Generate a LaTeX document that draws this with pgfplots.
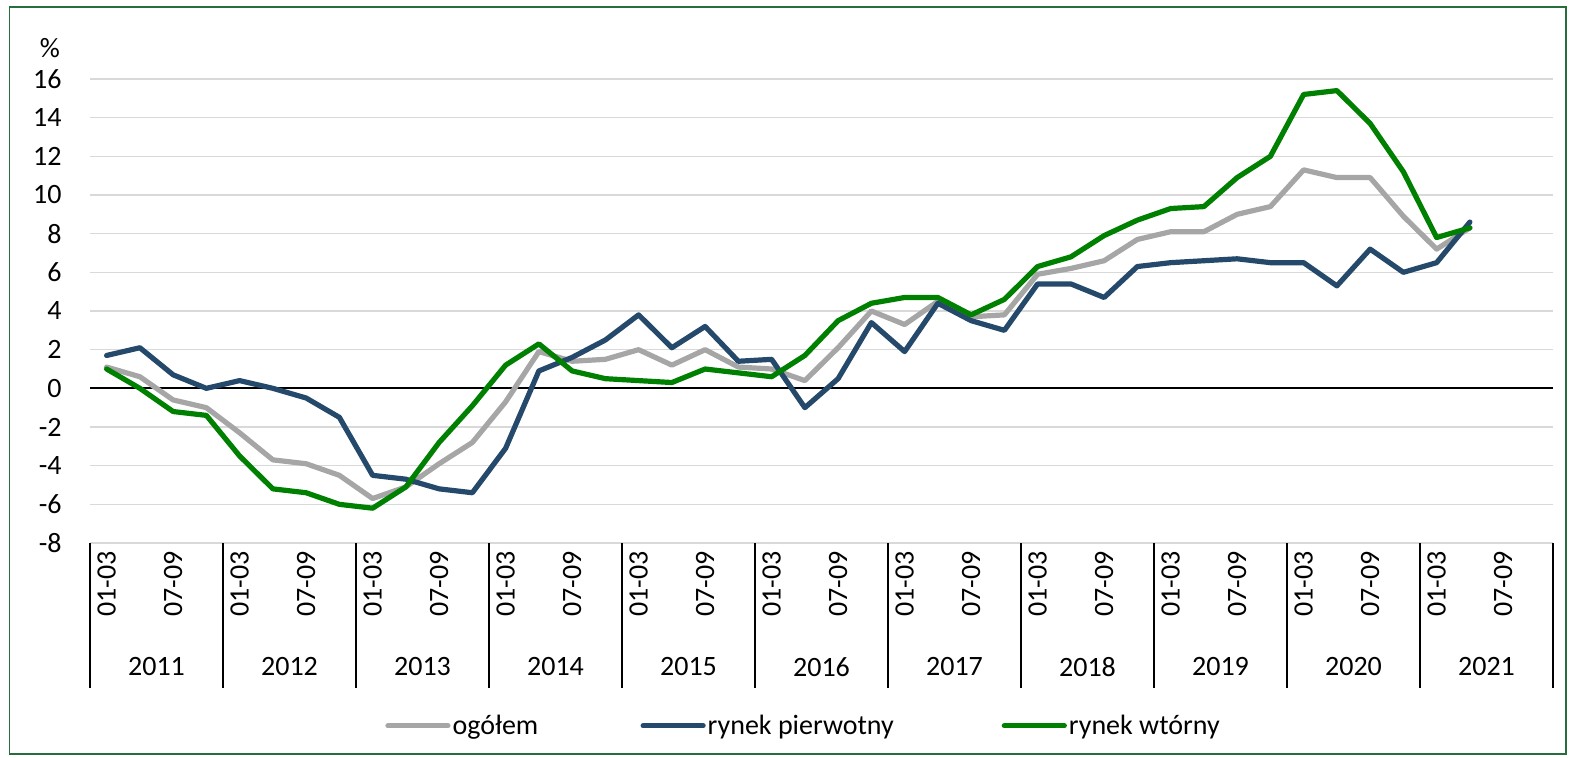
\documentclass[border=0pt]{standalone}
\usepackage{pgfplots}
\pgfplotsset{compat=1.18}
\usepackage{pgfplotstable}
\usepackage{fontspec}
\setmainfont{Carlito}
\definecolor{cgrey}{RGB}{166,166,166}
\definecolor{cblue}{RGB}{37,73,106}
\definecolor{cgreen}{RGB}{0,128,0}
\definecolor{cgrid}{RGB}{217,217,217}
\definecolor{cborder}{RGB}{40,110,60}

\pgfplotstableread{
x og pi wt
0.5 1.1 1.7 1.0
1.5 0.6 2.1 0.0
2.5 -0.6 0.7 -1.2
3.5 -1.0 0.0 -1.4
4.5 -2.3 0.4 -3.5
5.5 -3.7 0.0 -5.2
6.5 -3.9 -0.5 -5.4
7.5 -4.5 -1.5 -6.0
8.5 -5.7 -4.5 -6.2
9.5 -5.1 -4.7 -5.1
10.5 -3.9 -5.2 -2.8
11.5 -2.8 -5.4 -0.9
12.5 -0.7 -3.1 1.2
13.5 1.9 0.9 2.3
14.5 1.4 1.6 0.9
15.5 1.5 2.5 0.5
16.5 2.0 3.8 0.4
17.5 1.2 2.1 0.3
18.5 2.0 3.2 1.0
19.5 1.1 1.4 0.8
20.5 1.0 1.5 0.6
21.5 0.4 -1.0 1.7
22.5 2.1 0.5 3.5
23.5 4.0 3.4 4.4
24.5 3.3 1.9 4.7
25.5 4.5 4.4 4.7
26.5 3.7 3.5 3.8
27.5 3.8 3.0 4.6
28.5 5.9 5.4 6.3
29.5 6.2 5.4 6.8
30.5 6.6 4.7 7.9
31.5 7.7 6.3 8.7
32.5 8.1 6.5 9.3
33.5 8.1 6.6 9.4
34.5 9.0 6.7 10.9
35.5 9.4 6.5 12.0
36.5 11.3 6.5 15.2
37.5 10.9 5.3 15.4
38.5 10.9 7.2 13.7
39.5 8.9 6.0 11.2
40.5 7.2 6.5 7.8
41.5 8.3 8.6 8.3
}\data

\begin{document}
\begin{tikzpicture}[font=\fontsize{14}{17}\selectfont]
\path[use as bounding box] (0,0) rectangle (786.5pt,-379pt);
\draw[cborder, line width=0.7pt] (4.6pt,-3.6pt) rectangle (783pt,-377pt);
\node at (25pt,-24pt) {\%};
\begin{axis}[
  at={(45pt,-271.5pt)}, anchor=south west,
  scale only axis, width=731.5pt, height=232pt,
  xmin=0, xmax=44, ymin=-8, ymax=16,
  ytick={-8,-6,...,16},
  xtick={0.5,2.5,...,42.5},
  xticklabels={01-03,07-09,01-03,07-09,01-03,07-09,01-03,07-09,01-03,07-09,01-03,07-09,01-03,07-09,01-03,07-09,01-03,07-09,01-03,07-09,01-03,07-09},
  /pgf/number format/assume math mode=true,
  axis line style={draw=none},
  major tick length=0pt,
  tick style={draw=none},
  ymajorgrids, grid style={cgrid, line width=0.75pt},
  yticklabel style={anchor=east, inner sep=0pt},
  yticklabel shift=14pt,
  xticklabel style={rotate=90, anchor=east, inner sep=0pt},
  xticklabel shift=4pt,
  clip=false,
  legend columns=3,
  legend style={at={(axis description cs:0.2016,-0.394)}, anchor=west, draw=none, fill=none, inner sep=0pt, column sep=0pt, nodes={inner sep=0pt, anchor=west}},
  legend image code/.code={\draw[#1] (0pt,0pt) -- (30pt,0pt); \path (31pt,0pt);},
  every axis plot/.append style={line width=2.6pt, line join=round, line cap=round},
]
\draw[black, line width=0.9pt] (axis cs:0,0) -- (axis cs:44,0);
\pgfplotsinvokeforeach{0,4,...,44}{\draw[black, line width=0.6pt] (axis cs:#1,-8) -- ++(0pt,-72.5pt);}
\pgfplotsinvokeforeach{0,...,10}{\node at (axis cs:{4*#1+2},-8) [yshift=-62pt] {\the\numexpr2011+#1\relax};}
\addplot[cgrey] table[x=x,y=og]{\data};
\addlegendentry{\makebox[94pt][l]{ogółem}}
\addplot[cblue] table[x=x,y=pi]{\data};
\addlegendentry{\makebox[147pt][l]{rynek pierwotny}}
\addplot[cgreen] table[x=x,y=wt]{\data};
\addlegendentry{rynek wtórny}
\end{axis}
\end{tikzpicture}
\end{document}
